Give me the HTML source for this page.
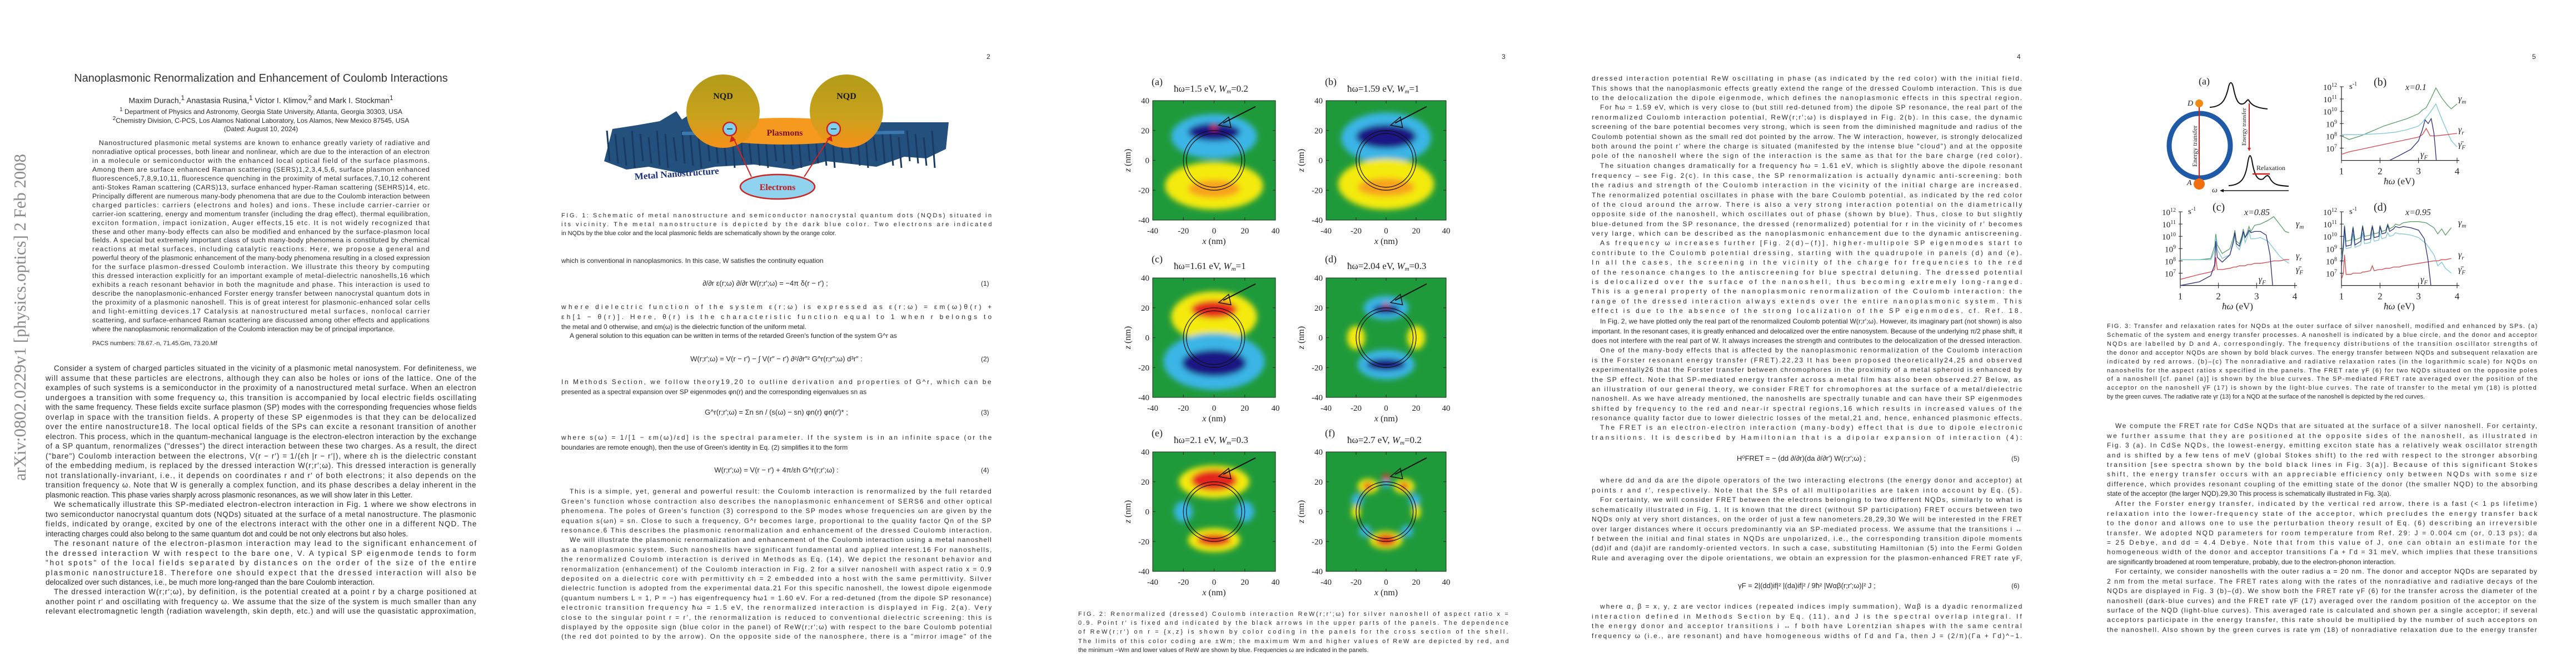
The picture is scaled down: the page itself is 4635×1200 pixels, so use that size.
<!DOCTYPE html>
<html><head><meta charset="utf-8">
<style>
html,body{margin:0;padding:0;background:#fff;}
body{width:4635px;height:1200px;position:relative;overflow:hidden;font-family:"Liberation Sans",sans-serif;color:#2a2a2a;}
.page{position:absolute;top:0;width:927px;height:1200px;overflow:hidden;}
.ln{position:absolute;overflow:visible;white-space:nowrap;text-align:left;transform-origin:0 50%;}
.c{position:absolute;white-space:nowrap;}
svg text{font-family:"Liberation Serif",serif;}
</style></head>
<body>
<div class="page" id="page0" style="left:0">
  <svg width="70" height="1200" style="position:absolute;left:0;top:0">
    <text x="0" y="0" transform="translate(46,865) rotate(-90)" font-size="31" fill="#8a8a8a" textLength="588" lengthAdjust="spacingAndGlyphs">arXiv:0802.0229v1  [physics.optics]  2 Feb 2008</text>
  </svg>
  <div class="c" style="left:128px;top:130px;width:683px;text-align:center;font-size:20px;color:#333">Nanoplasmonic Renormalization and Enhancement of Coulomb Interactions</div>
  <div class="c" style="left:128px;top:170px;width:683px;text-align:center;font-size:14px">Maxim Durach,<sup>1</sup> Anastasia Rusina,<sup>1</sup> Victor I. Klimov,<sup>2</sup> and Mark I. Stockman<sup>1</sup></div>
  <div class="c" style="left:128px;top:192px;width:683px;text-align:center;font-size:12px"><sup>1</sup> Department of Physics and Astronomy, Georgia State University, Atlanta, Georgia 30303, USA</div>
  <div class="c" style="left:128px;top:208px;width:683px;text-align:center;font-size:12px"><sup>2</sup>Chemistry Division, C-PCS, Los Alamos National Laboratory, Los Alamos, New Mexico 87545, USA</div>
  <div class="c" style="left:128px;top:225px;width:683px;text-align:center;font-size:12px">(Dated: August 10, 2024)</div>
  <div class="c" style="left:166px;top:612px;font-size:11px">PACS numbers: 78.67.-n, 71.45.Gm, 73.20.Mf</div>
</div>
<div class="page" id="page1" style="left:927px"></div>
<div class="page" id="page2" style="left:1854px"></div>
<div class="page" id="page3" style="left:2781px"></div>
<div class="page" id="page4" style="left:3708px"></div>

<script>
// ================= Figure 3 chart data (log10 of rate, s^-1) =================
const bE   = [1,1.2,1.5,1.8,2.1,2.4,2.7,3.0,3.1,3.2,3.3,3.45,3.6,3.75,3.85,4.0];
const bGm  = [8.0,7.7,8.0,8.4,8.8,9.1,9.4,9.8,10.1,10.3,10.9,11.9,11.1,10.5,10.2,10.6];
const bGFb = [8.1,8.1,8.1,8.15,8.2,8.3,8.5,8.8,9.1,9.5,9.9,10.6,9.4,8.3,7.6,7.1];
const bGr  = [6.5,6.7,6.9,7.1,7.3,7.5,7.7,7.9,8.1,8.6,8.0,8.0,8.05,8.1,8.15,8.2];
const bFE  = [2.25,2.5,2.8,3.0,3.1,3.17,3.25,3.33,3.4,3.44,3.46];
const bGF  = [6.0,6.4,6.9,7.6,8.5,9.3,9.0,9.4,8.2,6.8,6.0];

const cE   = [1,1.5,1.8,1.9,1.93,1.97,2.1,2.3,2.4,2.43,2.47,2.55,2.62,2.65,2.7,2.76,2.8,2.85,2.95,3.1,3.3,3.45,3.6,3.75,3.85];
const cGm  = [8.1,8.1,8.2,9.2,10.2,9.3,8.6,9.0,10.0,10.5,9.6,9.4,10.1,10.6,9.9,10.4,10.8,10.4,10.9,11.0,11.3,11.6,11.0,10.4,10.3];
const cGFb = [8.1,8.1,8.1,8.8,9.9,8.9,8.2,8.5,9.5,10.2,9.2,8.9,9.7,10.3,9.5,10.0,10.4,9.8,9.8,9.9,9.6,9.0,8.4,8.0,7.8];
const cGr  = [6.5,6.9,7.1,7.3,8.3,7.3,7.3,7.4,7.5,7.5,7.5,7.6,7.6,7.6,7.6,7.7,7.7,7.7,7.8,7.8,7.9,8.0,8.0,8.1,8.1];
const cFE  = [1,1.5,1.8,1.9,1.93,1.97,2.1,2.3,2.4,2.43,2.47,2.55,2.62,2.65,2.7,2.76,2.8,2.85,2.95,3.1,3.25,3.35,3.42];
const cGF  = [6.0,6.3,6.8,7.7,9.6,8.3,7.9,8.5,9.7,10.3,9.4,9.2,9.9,10.4,9.9,10.2,10.5,10.3,10.4,10.4,10.1,8.5,6.0];

const dE   = [1,1.05,1.08,1.12,1.25,1.3,1.35,1.5,1.55,1.6,1.75,1.8,1.85,1.97,2.0,2.05,2.15,2.2,2.25,2.35,2.4,2.5,2.6,2.8,3.0,3.2,3.4,3.5,3.6,3.7,3.85];
const dGm  = [8.3,9.5,10.9,9.6,9.7,10.8,9.7,9.9,10.9,10.0,10.1,10.9,10.2,10.3,10.9,10.4,10.5,11.0,10.6,10.8,11.0,10.9,11.1,11.2,11.2,11.1,10.7,10.2,10.6,10.1,10.7];
const dGFb = [8.1,9.0,10.3,9.0,9.1,10.2,9.1,9.3,10.3,9.4,9.5,10.3,9.6,9.7,10.3,9.8,9.9,10.3,10.0,10.1,10.3,10.2,10.2,10.1,9.9,9.4,8.5,7.6,7.9,7.4,7.0];
const dGr  = [6.5,7.0,8.5,6.9,6.9,7.0,7.0,7.0,7.1,7.1,7.2,7.6,7.2,7.3,7.3,7.3,7.4,7.4,7.4,7.5,7.5,7.5,7.6,7.7,7.8,7.9,8.0,8.0,8.1,8.1,8.2];
const dFE  = [1,1.05,1.08,1.12,1.25,1.3,1.35,1.5,1.55,1.6,1.75,1.8,1.85,1.97,2.0,2.05,2.15,2.2,2.25,2.35,2.4,2.5,2.6,2.8,3.0,3.15,3.25,3.32];
const dGF  = [7.6,9.2,10.8,9.2,9.3,10.7,9.3,9.6,10.8,9.7,9.8,10.8,9.9,10.0,10.8,10.2,10.3,10.9,10.4,10.6,10.8,10.7,10.8,10.7,10.5,9.8,8.0,6.0];

const decadeTicks = [7,8,9,10,11,12];
const energyTicks = [1,2,3,4];

// ================= Figure 2 heatmap data (nm) =================
const panelLabels = ["(a)","(b)","(c)","(d)","(e)","(f)"];
const panelTitles = ["ħω=1.5 eV, W","ħω=1.59 eV, W","ħω=1.61 eV, W","ħω=2.04 eV, W","ħω=2.1 eV, W","ħω=2.7 eV, W"];
const panelWm = ["0.2","1","1","0.3","0.3","0.2"];
const nmTicks = [-40,-20,0,20,40];
const LB="#3bb5e6", DB="#1c1684", YE="#f4ea10", RE="#e5261b", OR="#f7a31c";
const blobsA = [[0,16,28,15,LB],[0,19,17,6,DB],[0,-17,32,16,YE],[0,-19,17,6,OR],[0,22,1.8,1.8,RE]];
const blobsB = [[0,15,30,17,LB],[0,16,20,8,DB],[0,-16,32,17,YE],[0,-18,19,6,OR]];
const blobsC = [[0,14,28,17,YE],[0,19,15,6,RE],[0,-16,33,19,LB],[0,-17,21,9,DB]];
const blobsD = [[0,20,15,8,LB],[0,19,9,3,DB],[0,-18,19,10,LB],[0,-18,13,4,DB],[-20,0,6,8,YE],[20,0,6,8,YE],[0,22,1.5,1.5,RE]];
const blobsE = [[0,20,23,11,YE],[0,21,15,7,RE],[0,-19,17,8,YE],[0,-19,11,4,RE],[-20,0,6,7,LB],[20,0,6,7,LB]];
const blobsF = [[-12,17,7,5,YE],[12,17,7,5,YE],[0,-19,11,6,YE],[-20,0,3,5,YE],[20,0,3,5,YE],[-14,-13,4,4,LB],[14,-13,4,4,LB],[-19,8,4,4,LB],[19,8,4,4,LB],[0,19,3,3,LB],[-12,17,3,2.5,RE],[12,17,3,2.5,RE],[0,-19,7,4,RE],[0,23,3,2,RE]];
const allBlobs = [blobsA,blobsB,blobsC,blobsD,blobsE,blobsF];

const NS="http://www.w3.org/2000/svg";
function pg(i){return document.getElementById('page'+i);}
function mk(tag,attrs,parent){const e=document.createElementNS(NS,tag);for(const k in attrs)e.setAttribute(k,attrs[k]);if(parent)parent.appendChild(e);return e;}
function overlay(i){const s=mk('svg',{width:927,height:1200,style:'position:absolute;left:0;top:0'},pg(i));


return s;}

// ================= text helper =================
function addLines(pi,x,y,w,lh,n,text,fs,indent,fullLast,name){
  const words=text.trim().split(/\s+/);const total=text.length;const per=total/n;
  const lines=[];let cur=[];let acc=0;
  for(const wd of words){
    const curLen=cur.join(' ').length;
    if(cur.length && lines.length<n-1 && acc+curLen+wd.length/2>per*(lines.length+1)){lines.push(cur.join(' '));acc+=curLen+1;cur=[];}
    cur.push(wd);
  }
  lines.push(cur.join(' '));
  lines.forEach((t,i)=>{
    const d=document.createElement('div');
    d.className='ln';
    const ind=(i===0?indent:0);
    const avail=w-ind;
    d.style.left=(x+ind)+'px';d.style.top=(y-lh/2+i*lh)+'px';
    d.style.height=lh+'px';d.style.lineHeight=lh+'px';d.style.fontSize=fs+'px';
    d.textContent=t;
    
    
    pg(pi).appendChild(d);
    const nat=d.scrollWidth;
    const just=(i<lines.length-1||fullLast);
    if(nat>avail){d.style.transform='scaleX('+(avail/nat)+')';}
    else if(just && t.length>1){
      const extra=avail-nat;
      d.style.letterSpacing=(extra/(t.length-1))+'px';
    }
  });
}
function addText(pi,x,y,t,fs,name,align,w){
  const d=document.createElement('div');d.className='c';
  d.style.left=x+'px';d.style.top=(y-fs*0.6)+'px';d.style.fontSize=fs+'px';
  if(w){d.style.width=w+'px';d.style.textAlign=align||'left';}
  d.textContent=t;
  
  
  pg(pi).appendChild(d);
}
function pageNum(pi,t){addText(pi,848,102,t,12,'page-number');}

// ================= PAGE 1 =================
addLines(0,166,258,607,15.95,22,"Nanostructured plasmonic metal systems are known to enhance greatly variety of radiative and nonradiative optical processes, both linear and nonlinear, which are due to the interaction of an electron in a molecule or semiconductor with the enhanced local optical field of the surface plasmons. Among them are surface enhanced Raman scattering (SERS)1,2,3,4,5,6, surface plasmon enhanced fluorescence5,7,8,9,10,11, fluorescence quenching in the proximity of metal surfaces,7,10,12 coherent anti-Stokes Raman scattering (CARS)13, surface enhanced hyper-Raman scattering (SEHRS)14, etc. Principally different are numerous many-body phenomena that are due to the Coulomb interaction between charged particles: carriers (electrons and holes) and ions. These include carrier-carrier or carrier-ion scattering, energy and momentum transfer (including the drag effect), thermal equilibration, exciton formation, impact ionization, Auger effects,15 etc. It is not widely recognized that these and other many-body effects can also be modified and enhanced by the surface-plasmon local fields. A special but extremely important class of such many-body phenomena is constituted by chemical reactions at metal surfaces, including catalytic reactions. Here, we propose a general and powerful theory of the plasmonic enhancement of the many-body phenomena resulting in a closed expression for the surface plasmon-dressed Coulomb interaction. We illustrate this theory by computing this dressed interaction explicitly for an important example of metal-dielectric nanoshells,16 which exhibits a reach resonant behavior in both the magnitude and phase. This interaction is used to describe the nanoplasmonic-enhanced Forster energy transfer between nanocrystal quantum dots in the proximity of a plasmonic nanoshell. This is of great interest for plasmonic-enhanced solar cells and light-emitting devices.17 Catalysis at nanostructured metal surfaces, nonlocal carrier scattering, and surface-enhanced Raman scattering are discussed among other effects and applications where the nanoplasmonic renormalization of the Coulomb interaction may be of principal importance.",12.2,12,false,'abstract');
addLines(0,82,663,775,17.5,14,"Consider a system of charged particles situated in the vicinity of a plasmonic metal nanosystem. For definiteness, we will assume that these particles are electrons, although they can also be holes or ions of the lattice. One of the examples of such systems is a semiconductor in the proximity of a nanostructured metal surface. When an electron undergoes a transition with some frequency ω, this transition is accompanied by local electric fields oscillating with the same frequency. These fields excite surface plasmon (SP) modes with the corresponding frequencies whose fields overlap in space with the transition fields. A property of these SP eigenmodes is that they can be delocalized over the entire nanostructure18. The local optical fields of the SPs can excite a resonant transition of another electron. This process, which in the quantum-mechanical language is the electron-electron interaction by the exchange of a SP quantum, renormalizes (\"dresses\") the direct interaction between these two charges. As a result, the direct (\"bare\") Coulomb interaction between the electrons, V(r − r′) = 1/(εh |r − r′|), where εh is the dielectric constant of the embedding medium, is replaced by the dressed interaction W(r;r′;ω). This dressed interaction is generally not translationally-invariant, i.e., it depends on coordinates r and r′ of both electrons; it also depends on the transition frequency ω. Note that W is generally a complex function, and its phase describes a delay inherent in the plasmonic reaction. This phase varies sharply across plasmonic resonances, as we will show later in this Letter.",13.4,15,false,'body-p1');
addLines(0,82,908,775,17.5,4,"We schematically illustrate this SP-mediated electron-electron interaction in Fig. 1 where we show electrons in two semiconductor nanocrystal quantum dots (NQDs) situated at the surface of a metal nanostructure. The plasmonic fields, indicated by orange, excited by one of the electrons interact with the other one in a different NQD. The interacting charges could also belong to the same quantum dot and could be not only electrons but also holes.",13.4,15,false,'body-p2');
addLines(0,82,978,775,17.5,5,"The resonant nature of the electron-plasmon interaction may lead to the significant enhancement of the dressed interaction W with respect to the bare one, V. A typical SP eigenmode tends to form \"hot spots\" of the local fields separated by distances on the order of the size of the entire plasmonic nanostructure18. Therefore one should expect that the dressed interaction will also be delocalized over such distances, i.e., be much more long-ranged than the bare Coulomb interaction.",13.4,15,false,'body-p3');
addLines(0,82,1065,775,17.5,3,"The dressed interaction W(r;r′;ω), by definition, is the potential created at a point r by a charge positioned at another point r′ and oscillating with frequency ω. We assume that the size of the system is much smaller than any relevant electromagnetic length (radiation wavelength, skin depth, etc.) and will use the quasistatic approximation,",13.4,15,true,'body-p4');

// ================= PAGE 2 =================
pageNum(1,'2');
(function(){
  const s=overlay(1);
  const g=mk('g',{},s);
  
  
  const defs=mk('defs',{},s);
  const lg=mk('linearGradient',{id:'nqd',x1:0,y1:0,x2:0,y2:1},defs);
  mk('stop',{offset:'0',"stop-color":'#b29a18'},lg);mk('stop',{offset:'0.55',"stop-color":'#c8a21c'},lg);mk('stop',{offset:'1',"stop-color":'#f5901a'},lg);
  let pts="160,290 175,232 220,225 260,218 290,200 300,215 330,195 345,220 780,220 775,268 740,285 700,282 650,300 560,290 500,305 430,296 360,300 300,312 240,300 200,305";
  const slab=mk('polygon',{points:pts,fill:'#24507e'},g);
  
  
  for(let k=0;k<40;k++){mk('line',{x1:165+k*15,y1:235+(k%3)*6,x2:170+k*15,y2:290+(k%4)*4,stroke:'#183a63',"stroke-width":3},g);}
  mk('path',{d:'M300 240 L420 240 L440 248 L540 248 L560 240 L700 238',stroke:'#3b78b0',"stroke-width":6,fill:'none'},g);
  mk('ellipse',{cx:484,cy:236,rx:150,ry:24,fill:'#f59a1f'},g);
  const n1=mk('circle',{cx:374,cy:200,r:66,fill:'url(#nqd)'},g);
  
  
  const n2=mk('circle',{cx:596,cy:200,r:66,fill:'url(#nqd)'},g);
  
  
  mk('ellipse',{cx:484,cy:238,rx:60,ry:14,fill:'#f59a1f'},g);
  [[386,232],[573,232]].forEach(p=>{mk('circle',{cx:p[0],cy:p[1],r:12,fill:'#7fd0ee',stroke:'#d02020',"stroke-width":2.5},g);mk('line',{x1:p[0]-5,y1:p[1],x2:p[0]+5,y2:p[1],stroke:'#222',"stroke-width":1.5},g);});
  const t=(x,y,str,fs,col,nm,rot)=>{const e=mk('text',{x:x,y:y,"font-size":fs,"font-weight":'bold',fill:col,"text-anchor":'middle'},g);if(rot)e.setAttribute('transform','rotate('+rot+' '+x+' '+y+')');e.textContent=str;
    
    };
  t(374,178,'NQD',16,'#1a1a1a','nqd-label-left');t(596,178,'NQD',16,'#1a1a1a','nqd-label-right');
  t(485,244,'Plasmons',16,'#7a1030','plasmons-label');
  t(291,318,'Metal Nanostructure',17,'#1c2f7a','metal-label',-4);
  mk('ellipse',{cx:472,cy:336,rx:67,ry:22,fill:'#8fd3ef',stroke:'#d02020',"stroke-width":2.5},g);
  t(472,342,'Electrons',16,'#c0181c','electrons-label');
  mk('line',{x1:425,y1:318,x2:392,y2:247,stroke:'#d02020',"stroke-width":2},g);
  mk('line',{x1:520,y1:318,x2:566,y2:247,stroke:'#d02020',"stroke-width":2},g);
  mk('polygon',{points:'389,244 386,256 397,252',fill:'#d02020'},g);
  mk('polygon',{points:'569,244 560,250 571,255',fill:'#d02020'},g);
})();
addLines(1,83,388,774,16.2,3,"FIG. 1: Schematic of metal nanostructure and semiconductor nanocrystal quantum dots (NQDs) situated in its vicinity. The metal nanostructure is depicted by the dark blue color. Two electrons are indicated in NQDs by the blue color and the local plasmonic fields are schematically shown by the orange color.",11,0,false,'fig1-caption');
addLines(1,83,470,774,17.3,1,"which is conventional in nanoplasmonics. In this case, W satisfies the continuity equation",12,0,false,'p2-text-a');
addText(1,320,510,"∂/∂r ε(r;ω) ∂/∂r W(r;r′;ω) = −4π δ(r − r′) ;",13,'equation-1','center',260);
addText(1,838,510,"(1)",12,'eq1-number');
addLines(1,83,552,774,18,3,"where dielectric function of the system ε(r;ω) is expressed as ε(r;ω) = εm(ω)θ(r) + εh[1 − θ(r)]. Here, θ(r) is the characteristic function equal to 1 when r belongs to the metal and 0 otherwise, and εm(ω) is the dielectric function of the uniform metal.",12,0,false,'p2-text-b');
addLines(1,83,605,774,17.3,1,"A general solution to this equation can be written in terms of the retarded Green's function of the system G^r as",12,15,false,'p2-text-c');
addText(1,260,646,"W(r;r′;ω) = V(r − r′) − ∫ V(r″ − r′) ∂²/∂r″² G^r(r;r″;ω) d³r″ :",13,'equation-2','center',420);
addText(1,838,646,"(2)",12,'eq2-number');
addLines(1,83,688,774,17.5,2,"In Methods Section, we follow theory19,20 to outline derivation and properties of G^r, which can be presented as a spectral expansion over SP eigenmodes φn(r) and the corresponding eigenvalues sn as",12,0,false,'p2-text-d');
addText(1,320,742,"G^r(r;r′;ω) = Σn  sn / (s(ω) − sn)  φn(r) φn(r′)* ;",13,'equation-3','center',300);
addText(1,838,742,"(3)",12,'eq3-number');
addLines(1,83,788,774,17.5,2,"where s(ω) = 1/[1 − εm(ω)/εd] is the spectral parameter. If the system is in an infinite space (or the boundaries are remote enough), then the use of Green's identity in Eq. (2) simplifies it to the form",12,0,false,'p2-text-e');
addText(1,320,846,"W(r;r′;ω) = V(r − r′) + 4π/εh G^r(r;r′;ω) :",13,'equation-4','center',300);
addText(1,838,846,"(4)",12,'eq4-number');
addLines(1,83,885,774,17.4,5,"This is a simple, yet, general and powerful result: the Coulomb interaction is renormalized by the full retarded Green's function whose contraction also describes the nanoplasmonic enhancement of SERS6 and other optical phenomena. The poles of Green's function (3) correspond to the SP modes whose frequencies ωn are given by the equation s(ωn) = sn. Close to such a frequency, G^r becomes large, proportional to the quality factor Qn of the SP resonance.6 This describes the plasmonic renormalization and enhancement of the dressed Coulomb interaction.",12,15,true,'p2-para-5');
addLines(1,83,972,774,17.4,11,"We will illustrate the plasmonic renormalization and enhancement of the Coulomb interaction using a metal nanoshell as a nanoplasmonic system. Such nanoshells have significant fundamental and applied interest.16 For nanoshells, the renormalized Coulomb interaction is derived in Methods as Eq. (14). We depict the resonant behavior and renormalization (enhancement) of the Coulomb interaction in Fig. 2 for a silver nanoshell with aspect ratio x = 0.9 deposited on a dielectric core with permittivity εh = 2 embedded into a host with the same permittivity. Silver dielectric function is adopted from the experimental data.21 For this specific nanoshell, the lowest dipole eigenmode (quantum numbers L = 1, P = −) has eigenfrequency ħω1 = 1.60 eV. For a red-detuned (from the dipole SP resonance) electronic transition frequency ħω = 1.5 eV, the renormalized interaction is displayed in Fig. 2(a). Very close to the singular point r = r′, the renormalization is reduced to conventional dielectric screening: this is displayed by the opposite sign (blue color in the panel) of ReW(r;r′;ω) with respect to the bare Coulomb potential (the red dot pointed to by the arrow). On the opposite side of the nanosphere, there is a \"mirror image\" of the",12,15,true,'p2-para-6');

// ================= PAGE 3 (Fig. 2 heatmaps) =================
pageNum(2,'3');
(function(){
  const s=overlay(2);
  const defs=mk('defs',{},s);
  const f=mk('filter',{id:'blur6',x:'-50%',y:'-50%',width:'200%',height:'200%'},defs);
  mk('feGaussianBlur',{stdDeviation:5},f);
  const cols=[[220,441],[532,748]];
  const rows=[[181,396],[500,715],[813,1028]];
  allBlobs.forEach((blobs,i)=>{
    const c=cols[i%2], r=rows[Math.floor(i/2)];
    const x0=c[0],x1=c[1],y0=r[0],y1=r[1];
    const X=v=>x0+(v+40)/80*(x1-x0);
    const Z=v=>y1-(v+40)/80*(y1-y0);
    const g=mk('g',{},s);
    
    
    const cp=mk('clipPath',{id:'cp'+i},defs);mk('rect',{x:x0,y:y0,width:x1-x0,height:y1-y0},cp);
    const inner=mk('g',{"clip-path":'url(#cp'+i+')'},g);
    mk('rect',{x:x0,y:y0,width:x1-x0,height:y1-y0,fill:'#1f9a3b'},inner);
    const bl=mk('g',{filter:'url(#blur6)'},inner);
    blobs.forEach(b=>{
      const e=mk('ellipse',{cx:X(b[0]),cy:Z(b[1]),rx:Math.abs(X(b[2])-X(0)),ry:Math.abs(Z(b[3])-Z(0)),fill:b[4]},bl);
      
      
    });
    [18,20].forEach(R=>{mk('ellipse',{cx:X(0),cy:Z(0),rx:X(R)-X(0),ry:Z(0)-Z(R),fill:'none',stroke:'#111',"stroke-width":1.2},inner);});
    mk('line',{x1:X(27),y1:Z(36),x2:X(6),y2:Z(25),stroke:'#111',"stroke-width":2},inner);
    mk('polygon',{points:X(3)+','+Z(23.5)+' '+X(9.5)+','+Z(29)+' '+X(11)+','+Z(22),fill:'none',stroke:'#111',"stroke-width":1.5},inner);
    mk('rect',{x:x0,y:y0,width:x1-x0,height:y1-y0,fill:'none',stroke:'#222',"stroke-width":1},g);
    nmTicks.forEach(v=>{
      mk('line',{x1:X(v),y1:y1,x2:X(v),y2:y1-5,stroke:'#222'},g);
      mk('line',{x1:X(v),y1:y0,x2:X(v),y2:y0+5,stroke:'#222'},g);
      mk('line',{x1:x0,y1:Z(v),x2:x0+5,y2:Z(v),stroke:'#222'},g);
      mk('line',{x1:x1,y1:Z(v),x2:x1-5,y2:Z(v),stroke:'#222'},g);
      const tx=mk('text',{x:X(v),y:y1+24,"font-size":15,"text-anchor":'middle',fill:'#222'},g);tx.textContent=v;
      
      
      const ty=mk('text',{x:x0-6,y:Z(v)+5,"font-size":15,"text-anchor":'end',fill:'#222'},g);ty.textContent=v;
      
      
    });
    const xl=mk('text',{x:(x0+x1)/2,y:y1+43,"font-size":16,"text-anchor":'middle',fill:'#222'},g);xl.innerHTML='<tspan font-style="italic">x</tspan> (nm)';
    
    
    const zl=mk('text',{x:0,y:0,"font-size":16,"text-anchor":'middle',fill:'#222',transform:'translate('+(x0-40)+','+((y0+y1)/2)+') rotate(-90)'},g);zl.innerHTML='<tspan font-style="italic">z</tspan> (nm)';
    
    
    const pl=mk('text',{x:x0-2,y:y0-28,"font-size":18,fill:'#222'},g);pl.textContent=panelLabels[i];
    
    
    const pt=mk('text',{x:x0+38,y:y0-16,"font-size":17,fill:'#222'},g);
    pt.innerHTML=panelTitles[i].replace('W','<tspan font-style="italic">W</tspan>')+'<tspan font-size="11" dy="3" font-style="italic">m</tspan><tspan dy="-3">='+panelWm[i]+'</tspan>';
    
    
  });
})();
addLines(2,86,1105,774,16.3,5,"FIG. 2: Renormalized (dressed) Coulomb interaction ReW(r;r′;ω) for silver nanoshell of aspect ratio x = 0.9. Point r′ is fixed and indicated by the black arrows in the upper parts of the panels. The dependence of ReW(r;r′) on r = {x,z} is shown by color coding in the panels for the cross section of the shell. The limits of this color coding are ±Wm; the maximum Wm and higher values of ReW are depicted by red, and the minimum −Wm and lower values of ReW are shown by blue. Frequencies ω are indicated in the panels.",11,0,false,'fig2-caption');

// ================= PAGE 4 =================
pageNum(3,'4');
const P4=[
 [142,3,false,"dressed interaction potential ReW oscillating in phase (as indicated by the red color) with the initial field. This shows that the nanoplasmonic effects greatly extend the range of the dressed Coulomb interaction. This is due to the delocalization the dipole eigenmode, which defines the nanoplasmonic effects in this spectral region."],
 [194,6,true,"For ħω = 1.59 eV, which is very close to (but still red-detuned from) the dipole SP resonance, the real part of the renormalized Coulomb interaction potential, ReW(r;r′;ω) is displayed in Fig. 2(b). In this case, the dynamic screening of the bare potential becomes very strong, which is seen from the diminished magnitude and radius of the Coulomb potential shown as the small red dot pointed by the arrow. The W interaction, however, is strongly delocalized both around the point r′ where the charge is situated (manifested by the intense blue \"cloud\") and at the opposite pole of the nanoshell where the sign of the interaction is the same as that for the bare charge (red color)."],
 [299,8,true,"The situation changes dramatically for a frequency ħω = 1.61 eV, which is slightly above the dipole resonant frequency – see Fig. 2(c). In this case, the SP renormalization is actually dynamic anti-screening: both the radius and strength of the Coulomb interaction in the vicinity of the initial charge are increased. The renormalized potential oscillates in phase with the bare Coulomb potential, as indicated by the red color of the cloud around the arrow. There is also a very strong interaction potential on the diametrically opposite side of the nanoshell, which oscillates out of phase (shown by blue). Thus, close to but slightly blue-detuned from the SP resonance, the dressed (renormalized) potential for r in the vicinity of r′ becomes very large, which can be described as the nanoplasmonic enhancement due to the dynamic antiscreening."],
 [438,8,true,"As frequency ω increases further [Fig. 2(d)–(f)], higher-multipole SP eigenmodes start to contribute to the Coulomb potential dressing, starting with the quadrupole in panels (d) and (e). In all the cases, the screening in the vicinity of the charge for frequencies to the red of the resonance changes to the antiscreening for blue spectral detuning. The dressed potential is delocalized over the surface of the nanoshell, thus becoming extremely long-ranged. This is a general property of the nanoplasmonic renormalization of the Coulomb interaction: the range of the dressed interaction always extends over the entire nanoplasmonic system. This effect is due to the absence of the strong localization of the SP eigenmodes, cf. Ref. 18."],
 [579,3,true,"In Fig. 2, we have plotted only the real part of the renormalized Coulomb potential W(r;r′;ω). However, its imaginary part (not shown) is also important. In the resonant cases, it is greatly enhanced and delocalized over the entire nanosystem. Because of the underlying π/2 phase shift, it does not interfere with the real part of W. It always increases the strength and contributes to the delocalization of the dressed interaction."],
 [631,8,true,"One of the many-body effects that is affected by the nanoplasmonic renormalization of the Coulomb interaction is the Forster resonant energy transfer (FRET).22,23 It has been proposed theoretically24,25 and observed experimentally26 that the Forster transfer between chromophores in the proximity of a metal spheroid is enhanced by the SP effect. Note that SP-mediated energy transfer across a metal film has also been observed.27 Below, as an illustration of our general theory, we consider FRET for chromophores at the surface of a metal/dielectric nanoshell. As we have already mentioned, the nanoshells are spectrally tunable and can have their SP eigenmodes shifted by frequency to the red and near-ir spectral regions,16 which results in increased values of the resonance quality factor due to lower dielectric losses of the metal,21 and, hence, enhanced plasmonic effects."],
 [770,2,true,"The FRET is an electron-electron interaction (many-body) effect that is due to dipole electronic transitions. It is described by Hamiltonian that is a dipolar expansion of interaction (4):"],
 [865,2,true,"where dd and da are the dipole operators of the two interacting electrons (the energy donor and acceptor) at points r and r′, respectively. Note that the SPs of all multipolarities are taken into account by Eq. (5)."],
 [900,7,true,"For certainty, we will consider FRET between the electrons belonging to two different NQDs, similarly to what is schematically illustrated in Fig. 1. It is known that the direct (without SP participation) FRET occurs between two NQDs only at very short distances, on the order of just a few nanometers.28,29,30 We will be interested in the FRET over larger distances where it occurs predominantly via an SP-mediated process. We assume that the transitions i ↔ f between the initial and final states in NQDs are unpolarized, i.e., the corresponding transition dipole moments (dd)if and (da)if are randomly-oriented vectors. In such a case, substituting Hamiltonian (5) into the Fermi Golden Rule and averaging over the dipole orientations, we obtain an expression for the plasmon-enhanced FRET rate γF,"],
 [1092,4,false,"where α, β = x, y, z are vector indices (repeated indices imply summation), Wαβ is a dyadic renormalized interaction defined in Methods Section by Eq. (11), and J is the spectral overlap integral. If the energy donor and acceptor transitions i ↔ f both have Lorentzian shapes with the same central frequency ω (i.e., are resonant) and have homogeneous widths of Γd and Γa, then J = (2/π)(Γa + Γd)^−1."]
];
P4.forEach((p,i)=>addLines(3,83,p[0],774,17.4,p[1],p[3],12,i===0?0:15,true,'p4-para-'+i));
addText(3,300,825,"H⁰FRET = − (dd ∂/∂r)(da ∂/∂r′) W(r;r′;ω) ;",13,'equation-5','center',320);
addText(3,838,825,"(5)",12,'eq5-number');
addText(3,300,1054,"γF = 2|(dd)if|² |(da)if|² / 9ħ²  |Wαβ(r;r′;ω)|² J ;",13,'equation-6','center',340);
addText(3,838,1054,"(6)",12,'eq6-number');

// ================= PAGE 5 (Fig. 3) =================
pageNum(4,'5');
(function(){
  const s=overlay(4);
  const g=mk('g',{},s);
  
  
  mk('ellipse',{cx:250,cy:262,rx:55,ry:58,fill:'none',stroke:'#1f5aa6',"stroke-width":9},g);
  mk('line',{x1:249,y1:188,x2:249,y2:328,stroke:'#d0201c',"stroke-width":2},g);
  mk('circle',{cx:249,cy:186,r:7,fill:'#f08a10'},g);
  mk('circle',{cx:249,cy:331,r:10,fill:'#f07010'},g);
  const tt=(x,y,str,fs,nm,extra)=>{const e=mk('text',Object.assign({x:x,y:y,"font-size":fs,fill:'#222'},extra||{}),g);e.textContent=str;
    
    return e;};
  tt(248,152,'(a)',18,'panel-a-label');
  tt(228,190,'D',14,'donor-label',{"font-style":'italic'});
  tt(227,333,'A',14,'acceptor-label',{"font-style":'italic'});
  tt(0,0,'Energy transfer',12,'energy-transfer-label-ring',{transform:'translate(245,300) rotate(-90)'});
  tt(0,0,'Energy transfer',11,'energy-transfer-label-spectra',{transform:'translate(333,262) rotate(-90)'});
  tt(352,306,'Relaxation',12,'relaxation-label');
  tt(272,346,'ω',14,'omega-label',{"font-style":'italic'});
  mk('path',{d:'M268 193 C 290 192, 296 180, 301 160 C 304 145, 308 145, 311 160 C 316 185, 322 190, 330 186 C 334 183, 336 178, 338 180 C 342 188, 350 194, 372 196',fill:'none',stroke:'#111',"stroke-width":2},g);
  mk('line',{x1:339,y1:186,x2:339,y2:268,stroke:'#d0201c',"stroke-width":2},g);
  mk('polygon',{points:'336,266 342,266 339,272',fill:'#d0201c'},g);
  mk('path',{d:'M302 334 C 325 333, 332 320, 336 295 C 339 275, 342 275, 345 295 C 350 320, 356 325, 364 322 C 368 318, 372 312, 376 320 C 382 333, 392 334, 410 335',fill:'none',stroke:'#111',"stroke-width":2},g);
  mk('line',{x1:345,y1:313,x2:376,y2:313,stroke:'#d0201c',"stroke-width":2.5},g);
  mk('line',{x1:410,y1:343,x2:288,y2:343,stroke:'#111',"stroke-width":1.5},g);
  mk('polygon',{points:'286,343 293,340 293,346',fill:'#111'},g);

  const panels=[
    {id:'b',x0:505,x1:713,y12:156,label:'(b)',xtxt:'x=0.1',series:[[bE,bGm,'#5a9e6a'],[bE,bGFb,'#7cc6d6'],[bE,bGr,'#d9454a'],[bFE,bGF,'#2c2c7a']],labYr:[10.8,8.8,8.3,6.6]},
    {id:'c',x0:215,x1:421,y12:381,label:'(c)',xtxt:'x=0.85',series:[[cE,cGm,'#5a9e6a'],[cE,cGFb,'#7cc6d6'],[cE,cGr,'#d9454a'],[cFE,cGF,'#2c2c7a']],labYr:[10.8,8.1,8.2,6.6]},
    {id:'d',x0:505,x1:713,y12:381,label:'(d)',xtxt:'x=0.95',series:[[dE,dGm,'#5a9e6a'],[dE,dGFb,'#7cc6d6'],[dE,dGr,'#d9454a'],[dFE,dGF,'#2c2c7a']],labYr:[10.9,8.3,8.3,6.6]}
  ];
  const DEC=22.1, YMIN=6.0;
  panels.forEach(p=>{
    const pgp=mk('g',{},s);
    
    
    const X=e=>p.x0+(e-1)/3*(p.x1-p.x0);
    const Y=v=>p.y12+(12-Math.max(v,YMIN))*DEC;
    const yb=Y(YMIN);
    const ax=mk('line',{x1:X(1),y1:yb,x2:X(4)+4,y2:yb,stroke:'#222',"stroke-width":1.2},pgp);
    
    
    const ay=mk('line',{x1:X(1),y1:Y(12),x2:X(1),y2:yb,stroke:'#222',"stroke-width":1.2},pgp);
    
    
    energyTicks.forEach(e=>{
      mk('line',{x1:X(e),y1:yb-5,x2:X(e),y2:yb+5,stroke:'#222'},pgp);
      const t=mk('text',{x:X(e),y:yb+25,"font-size":17,"text-anchor":'middle',fill:'#222'},pgp);t.textContent=e;
      
      
    });
    decadeTicks.forEach(v=>{
      mk('line',{x1:X(1)-3,y1:Y(v),x2:X(1)+4,y2:Y(v),stroke:'#222'},pgp);
      const t=mk('text',{x:X(1)-8,y:Y(v)+6,"font-size":15,"text-anchor":'end',fill:'#222'},pgp);
      t.innerHTML='10<tspan font-size="10" dy="-6">'+v+'</tspan>';
      
      
    });
    const xt=mk('text',{x:(X(1)+X(4))/2,y:yb+43,"font-size":17,"text-anchor":'middle',fill:'#222'},pgp);
    xt.innerHTML='<tspan font-style="italic">ħω</tspan> (eV)';
    
    
    const su=mk('text',{x:X(1)+14,y:p.y12+4,"font-size":15,fill:'#222'},pgp);su.innerHTML='s<tspan font-size="10" dy="-6">-1</tspan>';
    
    
    const pl=mk('text',{x:X(1)+58,y:p.y12-2,"font-size":20,fill:'#222'},pgp);pl.textContent=p.label;
    
    
    const xl=mk('text',{x:X(1)+115,y:p.y12+6,"font-size":16,fill:'#222',"font-style":'italic'},pgp);xl.textContent=p.xtxt;
    
    
    const names=['gamma-m','gamma-f-bar','gamma-r','gamma-f'];
    p.series.forEach((sr,k)=>{
      const d=sr[0].map((e,j)=>(j?'L':'M')+X(e).toFixed(1)+' '+Y(sr[1][j]).toFixed(1)).join(' ');
      const path=mk('path',{d:d,fill:'none',stroke:sr[2],"stroke-width":1.3},pgp);
      
      
    });
    const labs=[['γ','m'],['γ̄','F'],['γ','r'],['γ','F']];
    const lx=[X(4)+2,X(4)+2,X(4)+2,X(3.05)];
    const ly=[Y(p.labYr[0]),Y(7.1),Y(p.labYr[2]),yb-6];
    labs.forEach((l,k)=>{
      const t=mk('text',{x:lx[k],y:ly[k],"font-size":16,fill:'#222',"font-style":'italic'},pgp);
      t.innerHTML=l[0]+'<tspan font-size="11" dy="4">'+l[1]+'</tspan>';
      
      
    });
  });
})();
addLines(4,83,588,774,15.9,9,"FIG. 3: Transfer and relaxation rates for NQDs at the outer surface of silver nanoshell, modified and enhanced by SPs. (a) Schematic of the system and energy transfer processes. A nanoshell is indicated by a blue circle, and the donor and acceptor NQDs are labelled by D and A, correspondingly. The frequency distributions of the transition oscillator strengths of the donor and acceptor NQDs are shown by bold black curves. The energy transfer between NQDs and subsequent relaxation are indicated by red arrows. (b)–(c) The nonradiative and radiative relaxation rates (in the logarithmic scale) for NQDs on nanoshells for the aspect ratios x specified in the panels. The FRET rate γF (6) for two NQDs situated on the opposite poles of a nanoshell [cf. panel (a)] is shown by the blue curves. The SP-mediated FRET rate averaged over the position of the acceptor on the nanoshell γ̄F (17) is shown by the light-blue curves. The rate of transfer to the metal γm (18) is plotted by the green curves. The radiative rate γr (13) for a NQD at the surface of the nanoshell is depicted by the red curves.",11,0,false,'fig3-caption');
addLines(4,83,767,774,17.4,8,"We compute the FRET rate for CdSe NQDs that are situated at the surface of a silver nanoshell. For certainty, we further assume that they are positioned at the opposite sides of the nanoshell, as illustrated in Fig. 3 (a). In CdSe NQDs, the lowest-energy, emitting exciton state has a relatively weak oscillator strength and is shifted by a few tens of meV (global Stokes shift) to the red with respect to the stronger absorbing transition [see spectra shown by the bold black lines in Fig. 3(a)]. Because of this significant Stokes shift, the energy transfer occurs with an appreciable efficiency only between NQDs with some size difference, which provides resonant coupling of the emitting state of the donor (the smaller NQD) to the absorbing state of the acceptor (the larger NQD).29,30 This process is schematically illustrated in Fig. 3(a).",12,15,false,'p5-para-1');
addLines(4,83,907,774,17.4,7,"After the Forster energy transfer, indicated by the vertical red arrow, there is a fast (< 1 ps lifetime) relaxation into the lower-frequency state of the acceptor, which precludes the energy transfer back to the donor and allows one to use the perturbation theory result of Eq. (6) describing an irreversible transfer. We adopted NQD parameters for room temperature from Ref. 29: J = 0.004 cm (or, 0.13 ps); da = 25 Debye, and dd = 4.4 Debye. Note that from this value of J, one can obtain an estimate for the homogeneous width of the donor and acceptor transitions Γa + Γd = 31 meV, which implies that these transitions are significantly broadened at room temperature, probably, due to the electron-phonon interaction.",12,15,false,'p5-para-2');
addLines(4,83,1029,774,17.4,7,"For certainty, we consider nanoshells with the outer radius a = 20 nm. The donor and acceptor NQDs are separated by 2 nm from the metal surface. The FRET rates along with the rates of the nonradiative and radiative decays of the NQDs are displayed in Fig. 3 (b)–(d). We show both the FRET rate γF (6) for the transfer across the diameter of the nanoshell (dark-blue curves) and the FRET rate γ̄F (17) averaged over the random position of the acceptor on the surface of the NQD (light-blue curves). This averaged rate is calculated and shown per a single acceptor; if several acceptors participate in the energy transfer, this rate should be multiplied by the number of such acceptors on the nanoshell. Also shown by the green curves is rate γm (18) of nonradiative relaxation due to the energy transfer",12,15,true,'p5-para-3');
</script>
</body></html>
